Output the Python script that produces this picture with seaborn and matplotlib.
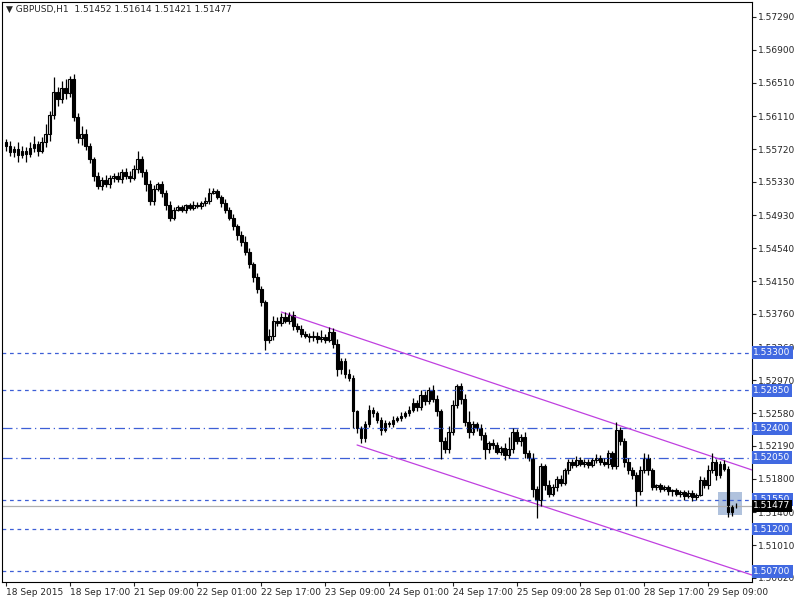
import numpy as np
import matplotlib
matplotlib.use("Agg")
import matplotlib.pyplot as plt
import matplotlib.transforms as mtrans
import seaborn as sns

sns.set_style("white")
plt.rcParams['font.family'] = ['DejaVu Sans']

# close prices, GBPUSD H1
closes = [
    1.5575, 1.5568, 1.5572, 1.5565, 1.5570, 1.5566, 1.5573, 1.5578, 1.5570, 1.5580,
    1.5590, 1.5612, 1.5640, 1.5632, 1.5645, 1.5638, 1.5655, 1.5610, 1.5585, 1.5590,
    1.5575, 1.5560, 1.5540, 1.5528, 1.5535, 1.5530, 1.5538, 1.5540, 1.5536, 1.5545,
    1.5540, 1.5538, 1.5548, 1.5560, 1.5545, 1.5530, 1.5510, 1.5525, 1.5530, 1.5520,
    1.5505, 1.5490, 1.5500, 1.5503, 1.5500, 1.5505, 1.5502, 1.5506, 1.5504, 1.5508,
    1.5510, 1.5520, 1.5522, 1.5515, 1.5508, 1.5500, 1.5490, 1.5480, 1.5470, 1.5462,
    1.5450, 1.5435, 1.5420, 1.5405, 1.5390, 1.5345, 1.5350, 1.5368, 1.5365, 1.5372,
    1.5368, 1.5375, 1.5362, 1.5358, 1.5352, 1.5350, 1.5348, 1.5350, 1.5346, 1.5349,
    1.5345, 1.5355, 1.5340, 1.5310, 1.5320, 1.5305, 1.5300, 1.5260, 1.5240, 1.5228,
    1.5245, 1.5262, 1.5258, 1.5250, 1.5238, 1.5246, 1.5245, 1.5250, 1.5252, 1.5255,
    1.5258, 1.5262, 1.5270, 1.5265, 1.5280, 1.5272, 1.5286, 1.5275, 1.5260, 1.5225,
    1.5215, 1.5235, 1.5268, 1.5290, 1.5275, 1.5248, 1.5236, 1.5245, 1.5240, 1.5232,
    1.5215, 1.5222, 1.5220, 1.5212, 1.5216, 1.5208, 1.5215, 1.5235, 1.5225, 1.5230,
    1.5210, 1.5205, 1.5168, 1.5155, 1.5195, 1.5172, 1.5162, 1.5170, 1.5180, 1.5175,
    1.5190, 1.5200, 1.5196, 1.5202, 1.5198, 1.5200, 1.5196, 1.5202, 1.5205, 1.5200,
    1.5198, 1.5210, 1.5195, 1.5238, 1.5225, 1.5200, 1.5190, 1.5185, 1.5165, 1.5190,
    1.5205, 1.5190, 1.5170, 1.5172, 1.5168, 1.5170, 1.5165, 1.5166, 1.5162, 1.5164,
    1.5160, 1.5163, 1.5158, 1.5161, 1.5178, 1.5172, 1.5190, 1.5200, 1.5185, 1.5198,
    1.5192, 1.5140, 1.5147, 1.51477,
]
first_open = 1.5580

# wick sizes in pips (above body / below body)
upper_wicks = [
    4, 6, 3, 8, 5, 4, 7, 10, 3, 6, 12, 5, 18, 6, 8, 10, 4, 6, 5, 9,
    6, 4, 3, 5, 4, 6, 3, 4, 5, 3, 4, 6, 5, 10, 4, 3, 5, 4, 3, 4,
    3, 5, 3, 2, 3, 2, 3, 4, 3, 2, 5, 6, 4, 3, 2, 4, 3, 5, 3, 4,
    6, 4, 3, 5, 4, 3, 8, 6, 4, 5, 6, 3, 4, 3, 5, 4, 3, 6, 4, 8,
    3, 5, 4, 6, 3, 4, 5, 3, 2, 3, 4, 6, 3, 2, 3, 4, 3, 5, 3, 4,
    3, 4, 6, 3, 5, 4, 3, 5, 4, 3, 4, 8, 5, 3, 4, 6, 12, 4, 3, 5,
    4, 3, 5, 4, 3, 6, 14, 5, 4, 3, 6, 4, 5, 3, 4, 3, 6, 4, 3, 5,
    3, 4, 3, 5, 4, 3, 4, 3, 4, 3, 5, 4, 3, 10, 4, 3, 5, 4, 3, 5,
    6, 4, 3, 2, 3, 2, 3, 2, 3, 2, 3, 4, 3, 2, 5, 4, 6, 10, 4, 3,
    4, 3, 2, 3,
]
lower_wicks = [
    5, 4, 6, 8, 4, 10, 4, 5, 6, 3, 6, 8, 4, 9, 5, 6, 4, 5, 6, 8,
    4, 5, 6, 4, 5, 3, 4, 5, 3, 4, 4, 5, 3, 4, 6, 8, 5, 4, 3, 5,
    6, 4, 3, 2, 3, 4, 2, 3, 2, 3, 4, 3, 2, 3, 5, 4, 3, 4, 6, 5,
    4, 5, 6, 4, 5, 12, 4, 5, 3, 4, 3, 4, 5, 3, 4, 3, 6, 4, 5, 3,
    4, 3, 5, 8, 6, 5, 4, 20, 6, 5, 4, 3, 5, 4, 6, 3, 4, 3, 2, 3,
    3, 4, 3, 5, 3, 4, 3, 4, 5, 22, 4, 5, 3, 4, 6, 5, 8, 4, 3, 6,
    12, 4, 5, 3, 4, 6, 3, 5, 4, 6, 5, 4, 10, 22, 8, 6, 4, 3, 5, 4,
    3, 4, 3, 2, 3, 4, 3, 2, 3, 4, 3, 5, 4, 3, 5, 6, 4, 5, 18, 4,
    3, 5, 4, 3, 4, 3, 4, 5, 3, 4, 5, 3, 4, 3, 2, 3, 4, 3, 6, 4,
    3, 6, 4, 2,
]

x_labels = ["18 Sep 2015", "18 Sep 17:00", "21 Sep 09:00", "22 Sep 01:00",
            "22 Sep 17:00", "23 Sep 09:00", "24 Sep 01:00", "24 Sep 17:00",
            "25 Sep 09:00", "28 Sep 01:00", "28 Sep 17:00", "29 Sep 09:00"]
y_ticks = [1.57290, 1.56900, 1.56510, 1.56110, 1.55720, 1.55330, 1.54930, 1.54540,
           1.54150, 1.53760, 1.53360, 1.52970, 1.52580, 1.52190, 1.51800, 1.51400,
           1.51010, 1.50620]
levels_dash = [1.53300, 1.52850, 1.51550, 1.51200, 1.50700]
levels_dashdot = [1.52400, 1.52050]
current_price = 1.51477
upper_channel = ([69, 187], [1.53782, 1.51904])
lower_channel = ([88, 187], [1.52201, 1.50655])

closes = np.array(closes)
opens = np.concatenate([[first_open], closes[:-1]])
highs = np.maximum(opens, closes) + np.array(upper_wicks) * 0.0001
lows = np.minimum(opens, closes) - np.array(lower_wicks) * 0.0001
idx = np.arange(len(closes))

fig = plt.figure(figsize=(8, 6), dpi=100)
ax = fig.add_axes([0.0025, 0.03, 0.9375, 0.9667])

blue = "#3d5fd6"
for lv in levels_dash:
    ax.axhline(lv, color=blue, lw=0.9, ls=(0, (3, 3)))
for lv in levels_dashdot:
    ax.axhline(lv, color=blue, lw=0.9, ls=(0, (8, 3, 1, 3)))
ax.axhline(current_price, color="#b0b0b0", lw=0.9)

ax.plot(*upper_channel, color="#c040e0", lw=0.9)
ax.plot(*lower_channel, color="#c040e0", lw=0.9)

ax.add_patch(plt.Rectangle((178.5, 1.51369), 6, 0.00273, color="#8fa8cf", alpha=0.7, lw=0))

ax.vlines(idx, lows, highs, color="black", lw=0.9)
up = closes >= opens
body = np.abs(closes - opens)
body = np.where(body < 0.00008, 0.00008, body)
ax.bar(idx[up], body[up], bottom=opens[up], width=0.7, color="white", edgecolor="black", lw=0.8)
ax.bar(idx[~up], body[~up], bottom=closes[~up], width=0.7, color="black", edgecolor="black", lw=0.8)

ax.set_xlim(-1, 187)
ax.set_ylim(1.50572, 1.57468)
ax.set_xticks(np.arange(0, 16 * len(x_labels), 16))
ax.set_xticklabels(x_labels, ha="left", fontsize=6.5)
shift = mtrans.ScaledTranslation(2 / 100, 0, fig.dpi_scale_trans)
for lb in ax.get_xticklabels():
    lb.set_transform(lb.get_transform() + shift)
ax.yaxis.tick_right()
ax.set_yticks(y_ticks)
ax.set_yticklabels([f"{v:.5f}" for v in y_ticks], fontsize=6.5)
ax.tick_params(axis="both", length=3, direction="out", width=0.8, pad=1, bottom=True, right=True)
for s in ax.spines.values():
    s.set_color("black")
    s.set_linewidth(0.8)

for lv in levels_dash + levels_dashdot:
    ax.annotate(f"{lv:.5f}", xy=(1.0, lv), xycoords=("axes fraction", "data"),
                xytext=(1, 0), textcoords="offset points", va="center", ha="left",
                fontsize=6.5, color="white",
                bbox=dict(boxstyle="square,pad=0.2", fc="#4169e1", ec="none"))
ax.annotate(f"{current_price:.5f}", xy=(1.0, current_price), xycoords=("axes fraction", "data"),
            xytext=(1, 0), textcoords="offset points", va="center", ha="left",
            fontsize=6.5, color="white",
            bbox=dict(boxstyle="square,pad=0.2", fc="black", ec="none"))

ax.text(0.005, 0.995, "▼ GBPUSD,H1  1.51452 1.51614 1.51421 1.51477",
        transform=ax.transAxes, va="top", ha="left", fontsize=6.5)

fig.savefig("out.png", dpi=100)
